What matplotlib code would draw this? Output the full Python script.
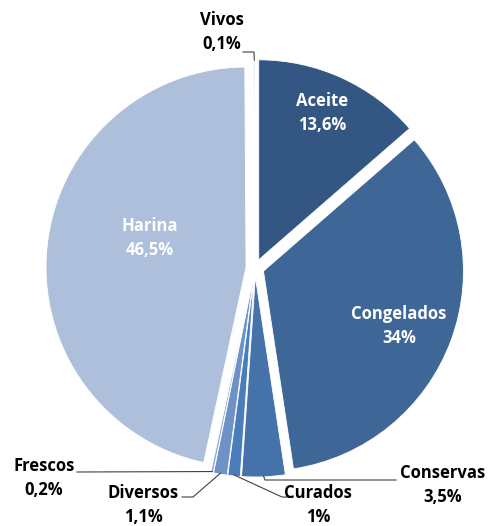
import matplotlib.pyplot as plt
import numpy as np

categories = ["Aceite", "Congelados", "Conservas", "Curados", "Diversos", "Frescos", "Harina", "Vivos"]
values = [13.6, 34, 3.5, 1, 1.1, 0.2, 46.5, 0.1]
pct_labels = ["13,6%", "34%", "3,5%", "1%", "1,1%", "0,2%", "46,5%", "0,1%"]
colors = ["#345682", "#3e6797", "#4472a9", "#4a7dbb", "#6e91c6", "#93acd4", "#aebfdb", "#c5d2e8"]

plt.rcParams['font.family'] = ['Open Sans', 'DejaVu Sans']

fig = plt.figure(figsize=(4.9, 5.26), dpi=100)
ax = fig.add_axes([0, 0, 1, 1])

# pie geometry in pixel units
cx, cy, R, off = 255, 258, 200, 9
explode = [off] * len(values)

wedges, _ = ax.pie(values, colors=colors, explode=explode, startangle=90,
                   counterclock=False, center=(cx, cy), radius=R,
                   wedgeprops=dict(linewidth=0.6, edgecolor='white'))
ax.set_xlim(0, 490)
ax.set_ylim(0, 526)
ax.set_aspect('equal')
ax.axis('off')

# inside labels
inside = {0: (322, 413), 1: (399, 200), 6: (150, 288)}
for i, (x, y) in inside.items():
    ax.text(x, y, categories[i] + "\n" + pct_labels[i], ha='center', va='center',
            color='white', fontsize=12, fontweight='bold', linespacing=1.45)

def edge_point(i, frac=1.0):
    w = wedges[i]
    ang = np.deg2rad((w.theta1 + w.theta2) / 2)
    c = w.center
    return c[0] + w.r * frac * np.cos(ang), c[1] + w.r * frac * np.sin(ang)

# outside labels with leader lines (points in image px, y flipped)
outside = {
    7: ((222, 32), [(243, 52), (254, 52)]),
    2: ((443, 485), [(396, 480), (265, 480)]),
    3: ((318, 505), [(293, 497), (282, 497)]),
    4: ((143, 505), [(182, 497), (193, 497)]),
    5: ((44, 478), [(77, 472)]),
}
for i, (pos, pts) in outside.items():
    ax.text(pos[0], 526 - pos[1], categories[i] + "\n" + pct_labels[i], ha='center', va='center',
            color='black', fontsize=12, fontweight='bold', linespacing=1.45)
    ex, ey = edge_point(i, 0.995)
    xs = [p[0] for p in pts] + [ex]
    ys = [526 - p[1] for p in pts] + [ey]
    ax.plot(xs, ys, color='#404040', linewidth=0.8)

fig.savefig("out.png", dpi=100)
